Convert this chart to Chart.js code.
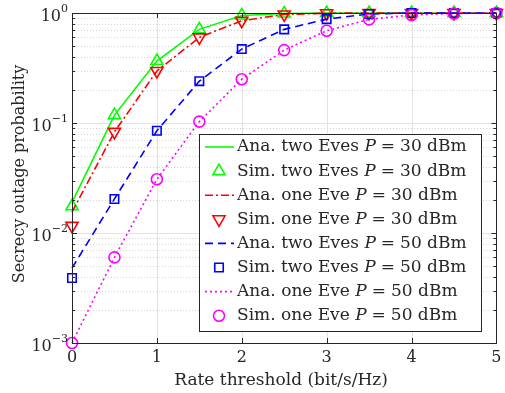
<!DOCTYPE html>
<html>
<head>
<meta charset="utf-8">
<script src="https://cdn.jsdelivr.net/npm/chart.js@4.4.1/dist/chart.umd.min.js"></script>
<style>html,body{margin:0;padding:0;background:#fff}</style>
</head>
<body>
<canvas id="outageChart" width="505" height="393"></canvas>
<script>
// rate threshold (bit/s/Hz)
var rate = [0, 0.5, 1, 1.5, 2, 2.5, 3, 3.5, 4, 4.5, 5]
// secrecy outage probability
var anaTwoEves30 = [0.019, 0.118, 0.366, 0.71, 0.95, 0.99, 1, 1, 1, 1, 1]
var simTwoEves30 = [0.0175, 0.118, 0.366, 0.71, 0.95, 0.99, 1, 1, 1, 1, 1]
var anaOneEve30 = [0.0155, 0.083, 0.297, 0.60, 0.85, 0.97, 0.995, 1, 1, 1, 1]
var simOneEve30 = [0.0116, 0.083, 0.297, 0.60, 0.85, 0.97, 0.995, 1, 1, 1, 1]
var anaTwoEves50 = [0.0048, 0.0204, 0.085, 0.24, 0.47, 0.71, 0.88, 0.98, 1, 1, 1]
var simTwoEves50 = [0.0039, 0.0204, 0.085, 0.24, 0.47, 0.71, 0.88, 0.98, 1, 1, 1]
var anaOneEve50 = [0.001, 0.006, 0.0308, 0.103, 0.25, 0.46, 0.69, 0.875, 0.96, 0.99, 1]
var simOneEve50 = [0.001, 0.006, 0.0308, 0.103, 0.25, 0.46, 0.69, 0.875, 0.96, 0.99, 1]
var xTicks = [0, 1, 2, 3, 4, 5]
var yDecades = [-3, -2, -1, 0]
var legendLabels = [
  ['Ana. two Eves ', '30'], ['Sim. two Eves ', '30'],
  ['Ana. one Eve ', '30'], ['Sim. one Eve ', '30'],
  ['Ana. two Eves ', '50'], ['Sim. two Eves ', '50'],
  ['Ana. one Eve ', '50'], ['Sim. one Eve ', '50']
]

var FONT = '"DejaVu Serif", "Liberation Serif", serif'
var AXIS = '#262626'

function pts(ys) {
  return rate.map(function (x, i) { return { x: x, y: ys[i] } })
}
function anaSet(ys, color, dash) {
  return { data: pts(ys), borderColor: color, backgroundColor: color, borderWidth: 1.6,
    borderDash: dash, pointRadius: 0, fill: false, clip: false, tension: 0 }
}
function simSet(ys, color, style, radius, rot) {
  return { data: pts(ys), showLine: false, borderColor: color, backgroundColor: 'rgba(0,0,0,0)',
    pointStyle: style, pointRadius: radius, pointRotation: rot || 0, pointBorderWidth: 1.6, clip: false }
}

var datasets = [
  anaSet(anaTwoEves30, '#00ff00', []),
  simSet(simTwoEves30, '#00ff00', 'triangle', 7),
  anaSet(anaOneEve30, '#ff0000', [8, 3, 2, 3]),
  simSet(simOneEve30, '#ff0000', 'triangle', 7, 180),
  anaSet(anaTwoEves50, '#0000ff', [8, 5]),
  simSet(simTwoEves50, '#0000ff', 'rect', 6),
  anaSet(anaOneEve50, '#ff00ff', [2, 3]),
  simSet(simOneEve50, '#ff00ff', 'circle', 5.5)
]
datasets.forEach(function (d, i) { d.order = datasets.length - i })

var frame = {
  id: 'frame',
  beforeDatasetsDraw: function (chart) {
    var ctx = chart.ctx, a = chart.chartArea, xs = chart.scales.x, ys = chart.scales.y
    ctx.save()
    ctx.lineWidth = 1
    // minor grid (dotted)
    ctx.strokeStyle = '#d4d4d4'
    ctx.setLineDash([1, 2])
    yDecades.slice(0, -1).forEach(function (d) {
      for (var k = 2; k <= 9; k++) {
        var py = Math.round(ys.getPixelForValue(k * Math.pow(10, d))) + 0.5
        ctx.beginPath(); ctx.moveTo(a.left, py); ctx.lineTo(a.right, py); ctx.stroke()
      }
    })
    // major grid
    ctx.setLineDash([])
    ctx.strokeStyle = '#e3e3e3'
    yDecades.forEach(function (d) {
      var py = Math.round(ys.getPixelForValue(Math.pow(10, d))) + 0.5
      ctx.beginPath(); ctx.moveTo(a.left, py); ctx.lineTo(a.right, py); ctx.stroke()
    })
    xTicks.forEach(function (t) {
      var px = Math.round(xs.getPixelForValue(t)) + 0.5
      ctx.beginPath(); ctx.moveTo(px, a.top); ctx.lineTo(px, a.bottom); ctx.stroke()
    })
    ctx.restore()
  },
  afterDatasetsDraw: function (chart) {
    var ctx = chart.ctx, a = chart.chartArea, xs = chart.scales.x, ys = chart.scales.y
    ctx.save()
    ctx.strokeStyle = AXIS
    ctx.lineWidth = 1
    ctx.strokeRect(Math.round(a.left) + 0.5, Math.round(a.top) + 0.5,
      Math.round(a.right - a.left), Math.round(a.bottom - a.top))
    ctx.beginPath()
    xTicks.forEach(function (t) {
      var px = Math.round(xs.getPixelForValue(t)) + 0.5
      ctx.moveTo(px, a.bottom); ctx.lineTo(px, a.bottom - 5)
      ctx.moveTo(px, a.top); ctx.lineTo(px, a.top + 5)
    })
    yDecades.forEach(function (d, j) {
      var py = Math.round(ys.getPixelForValue(Math.pow(10, d))) + 0.5
      ctx.moveTo(a.left, py); ctx.lineTo(a.left + 5, py)
      ctx.moveTo(a.right, py); ctx.lineTo(a.right - 5, py)
      if (j < yDecades.length - 1) {
        for (var k = 2; k <= 9; k++) {
          var q = Math.round(ys.getPixelForValue(k * Math.pow(10, d))) + 0.5
          ctx.moveTo(a.left, q); ctx.lineTo(a.left + 3, q)
          ctx.moveTo(a.right, q); ctx.lineTo(a.right - 3, q)
        }
      }
    })
    ctx.stroke()
    ctx.restore()
  },
  afterDraw: function (chart) {
    var ctx = chart.ctx, a = chart.chartArea, xs = chart.scales.x, ys = chart.scales.y
    ctx.save()
    ctx.fillStyle = AXIS
    // x tick labels
    ctx.font = '16px ' + FONT
    ctx.textAlign = 'center'; ctx.textBaseline = 'middle'
    xTicks.forEach(function (t) { ctx.fillText(String(t), xs.getPixelForValue(t), a.bottom + 15) })
    // y tick labels 10^d
    yDecades.forEach(function (d) {
      var py = ys.getPixelForValue(Math.pow(10, d))
      var sup = d < 0 ? '\u2212' + (-d) : String(d)
      ctx.font = '11px ' + FONT
      var sw = ctx.measureText(sup).width
      ctx.textAlign = 'right'
      ctx.fillText(sup, a.left - 4, py - 4)
      ctx.font = '16px ' + FONT
      ctx.fillText('10', a.left - 4 - sw, py + 4)
    })
    // axis titles
    ctx.textAlign = 'center'
    ctx.font = '17px ' + FONT
    ctx.fillText('Rate threshold (bit/s/Hz)', 281, a.bottom + 38)
    ctx.font = '16px ' + FONT
    ctx.save()
    ctx.translate(20, 174)
    ctx.rotate(-Math.PI / 2)
    ctx.fillText('Secrecy outage probability', 0, 0)
    ctx.restore()

    // legend box
    var bx = 199.5, by = 134.5, bw = 282, bh = 197
    ctx.fillStyle = '#fff'
    ctx.fillRect(bx, by, bw, bh)
    ctx.strokeStyle = AXIS
    ctx.lineWidth = 1
    ctx.strokeRect(bx, by, bw, bh)
    var ds = chart.data.datasets
    legendLabels.forEach(function (lab, i) {
      var cy = 147 + i * 24.1
      var d = ds[i]
      if (d.showLine === false) {
        ctx.strokeStyle = d.borderColor
        ctx.lineWidth = d.pointBorderWidth
        ctx.fillStyle = 'rgba(0,0,0,0)'
        Chart.helpers.drawPoint(ctx, { pointStyle: d.pointStyle, radius: d.pointRadius,
          rotation: d.pointRotation, borderWidth: d.pointBorderWidth }, 219, cy)
      } else {
        ctx.strokeStyle = d.borderColor
        ctx.lineWidth = d.borderWidth
        ctx.setLineDash(d.borderDash)
        ctx.beginPath(); ctx.moveTo(205, cy); ctx.lineTo(234, cy); ctx.stroke()
        ctx.setLineDash([])
      }
      ctx.fillStyle = AXIS
      ctx.textAlign = 'left'; ctx.textBaseline = 'middle'
      var x = 237
      ctx.font = '17px ' + FONT
      ctx.fillText(lab[0], x, cy); x += ctx.measureText(lab[0]).width
      ctx.font = 'italic 17px ' + FONT
      ctx.fillText('P', x, cy); x += ctx.measureText('P').width + 5
      ctx.font = '17px ' + FONT
      ctx.fillText('=', x, cy); x += ctx.measureText('=').width + 5
      ctx.fillText(lab[1] + ' dBm', x, cy)
    })
    ctx.restore()
  }
}

var ctx = document.getElementById('outageChart').getContext('2d')
var chart = new Chart(ctx, {
  type: 'line',
  data: { datasets: datasets },
  options: {
    responsive: false,
    animation: false,
    events: [],
    layout: { padding: { top: 13, right: 8, left: 0, bottom: 0 } },
    plugins: { legend: { display: false }, tooltip: { enabled: false } },
    scales: {
      x: { type: 'linear', min: 0, max: 5, grid: { display: false }, border: { display: false },
        ticks: { display: false }, afterFit: function (s) { s.height = 50 } },
      y: { type: 'logarithmic', min: 0.001, max: 1, grid: { display: false }, border: { display: false },
        ticks: { display: false }, afterFit: function (s) { s.width = 72 } }
    }
  },
  plugins: [frame]
})
</script>
</body>
</html>
